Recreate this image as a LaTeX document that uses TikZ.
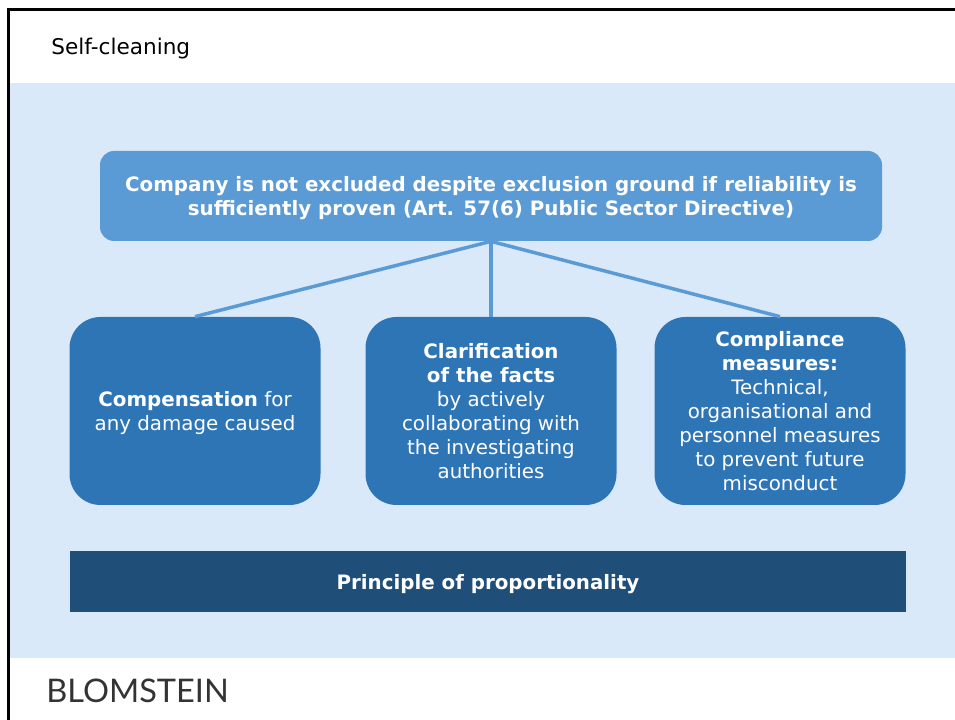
\documentclass[tikz,border=0pt]{standalone}
\usepackage{fontspec}
\setmainfont{DejaVu Sans}
\newfontfamily\logofont{Lato}
\definecolor{panel}{HTML}{DAE9F9}
\definecolor{topblue}{HTML}{5B9BD5}
\definecolor{midblue}{HTML}{2E75B6}
\definecolor{darkblue}{HTML}{1F4E79}
\tikzset{
  base/.style={align=center,text=white,inner sep=0pt,text depth=0pt,font=\fontsize{11.28}{13.66}\selectfont},
  headbox/.style={base,fill=topblue,rounded corners=0.28cm,minimum width=15.64cm,minimum height=1.8cm},
  measure/.style={base,fill=midblue,rounded corners=0.62cm,minimum width=5.02cm,minimum height=3.76cm},
  proportion/.style={base,fill=darkblue,minimum width=16.72cm,minimum height=1.22cm},
  link/.style={draw=topblue,line width=0.07cm}
}

\begin{document}
\begin{tikzpicture}
   \useasboundingbox (0,0) rectangle (19.1,14.4);
   \fill [panel] (0.2,1.24) rectangle (19.1,12.74);
   \draw [line width=0.06cm] (0.17,0)--(0.17,14.2)--(19.1,14.2);
   \node (title) [anchor=west,inner sep=0pt,font=\fontsize{12.3}{14}\selectfont] at (1.02,13.43) {Self-cleaning};
   \node (head) [headbox] at (9.82,10.48) {\textbf{Company is not excluded despite exclusion ground if reliability is}\\\textbf{sufficiently proven (Art. 57(6) Public Sector Directive)}};
   \node (comp) [measure] at (3.9,6.18) {\textbf{Compensation} for\\any damage caused};
   \node (facts) [measure] at (9.82,6.18) {\textbf{Clarification}\\\textbf{of the facts}\\by actively\\collaborating with\\the investigating\\authorities};
   \node (compl) [measure] at (15.6,6.18) {\textbf{Compliance}\\\textbf{measures:}\\Technical,\\organisational and\\personnel measures\\to prevent future\\misconduct};
   \node (prop) [proportion] at (9.76,2.77) {\textbf{Principle of proportionality}};
   \node (logo) [anchor=west,inner sep=0pt,text=black!80,font=\logofont\fontsize{18.5}{20}\selectfont] at (0.92,0.58) {BLOMSTEIN};
   \draw [link] (head.south)--(comp.north);
   \draw [link] (head.south)--(facts.north);
   \draw [link] (head.south)--(compl.north);
\end{tikzpicture}
\end{document}
